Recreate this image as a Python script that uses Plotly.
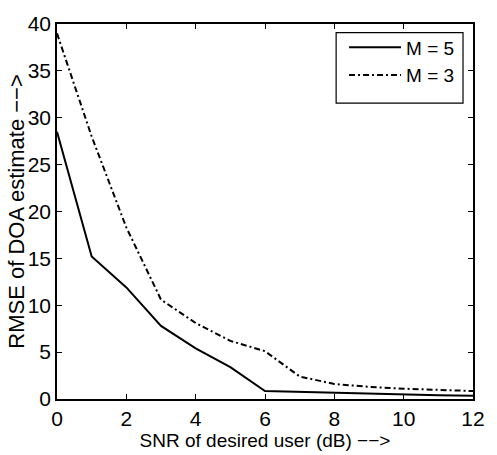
import plotly.graph_objects as go

# RMSE of DOA estimate versus SNR for two array sizes
snr_db = [0, 1, 2, 3, 4, 5, 6, 7, 8, 9, 10, 11, 12]
rmse_m5 = [28.5, 15.2, 11.9, 7.8, 5.4, 3.4, 0.85, 0.75, 0.65, 0.55, 0.45, 0.4, 0.35]
rmse_m3 = [39.0, 28.0, 18.3, 10.6, 8.1, 6.2, 5.1, 2.4, 1.6, 1.3, 1.1, 0.95, 0.85]

x_ticks = [0, 2, 4, 6, 8, 10, 12]
y_ticks = [0, 5, 10, 15, 20, 25, 30, 35, 40]

x_title = "SNR of desired user (dB) \u2212\u2212>"
y_title = "RMSE of DOA estimate \u2212\u2212>"

font_family = "Liberation Sans, Arial, Helvetica, sans-serif"

fig = go.Figure()
fig.add_trace(go.Scatter(
    x=snr_db, y=rmse_m5, mode="lines", name="M = 5",
    line=dict(color="black", width=2),
))
fig.add_trace(go.Scatter(
    x=snr_db, y=rmse_m3, mode="lines", name="M = 3",
    line=dict(color="black", width=2, dash="6px,3px,2px,3px"),
))

axis_common = dict(
    showline=True, linecolor="black", linewidth=1.5, mirror="allticks",
    ticks="inside", ticklen=5, tickcolor="black", tickwidth=1,
    showgrid=False, zeroline=False,
    tickfont=dict(family=font_family, size=21, color="black"),
)

fig.update_layout(
    width=497, height=455,
    margin=dict(l=57, r=15, t=14, b=52),
    paper_bgcolor="white", plot_bgcolor="white",
    font=dict(family=font_family, color="black"),
    xaxis=dict(
        range=[0, 12], tickvals=x_ticks, ticktext=[str(v) for v in x_ticks],
        title=dict(text=x_title, font=dict(size=19), standoff=0),
        **axis_common,
    ),
    yaxis=dict(
        range=[0, 40], tickvals=y_ticks, ticktext=[str(v) for v in y_ticks],
        **axis_common,
    ),
    legend=dict(
        x=0.69, y=0.988, xanchor="left", yanchor="top",
        bgcolor="rgba(0,0,0,0)", borderwidth=0,
        font=dict(family=font_family, size=19, color="black"),
        itemwidth=52, tracegroupgap=0,
    ),
    showlegend=True,
    # y-axis title set as rotated text next to the tick labels
    annotations=[dict(
        text=y_title, textangle=-90, showarrow=False,
        xref="paper", yref="paper", x=-0.098, y=0.5,
        xanchor="center", yanchor="middle",
        font=dict(family=font_family, size=22, color="black"),
    )],
    # frame around the legend entries
    shapes=[dict(
        type="rect", xref="paper", yref="paper",
        x0=0.671, x1=0.976, y0=0.789, y1=0.977,
        line=dict(color="black", width=1.2), fillcolor="white", layer="below",
    )],
)

fig.write_html("out.html")
